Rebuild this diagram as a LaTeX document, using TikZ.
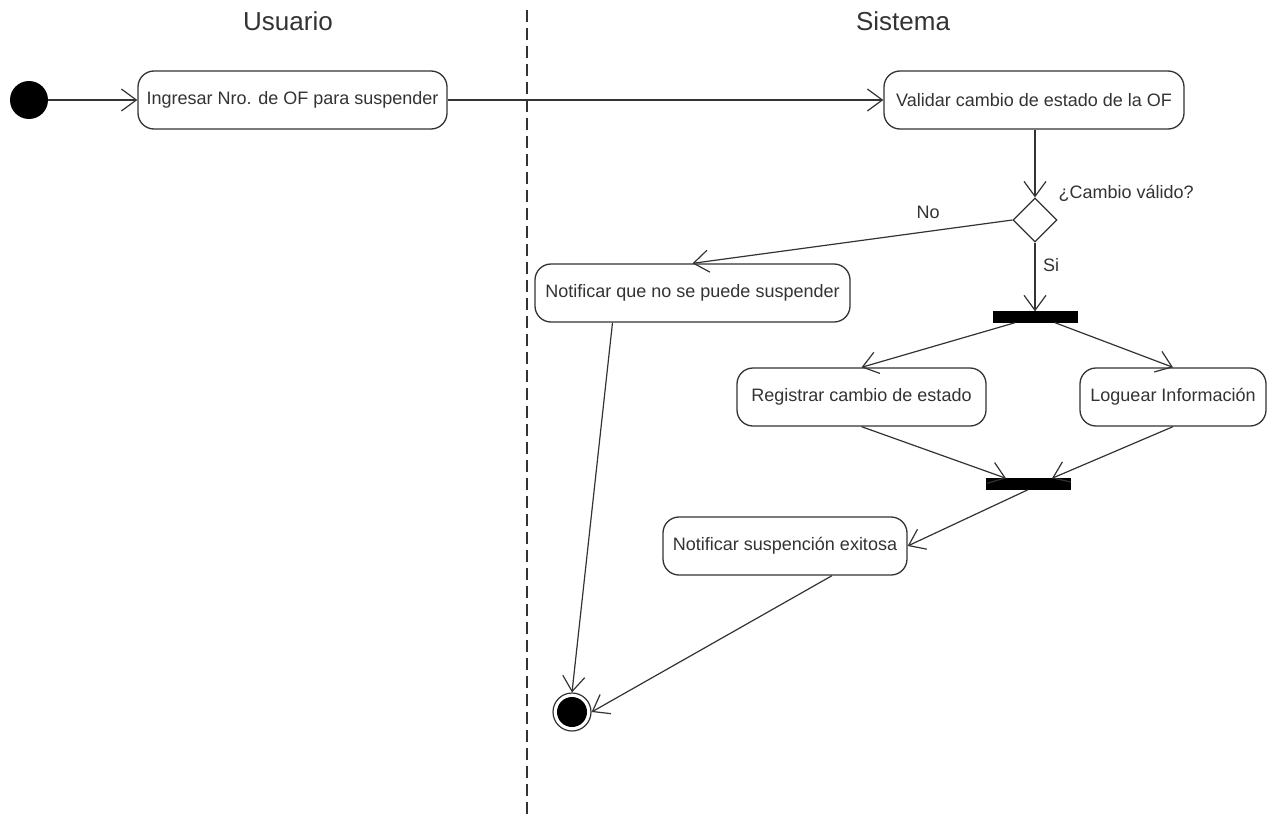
\documentclass[tikz,border=0pt]{standalone}
\usepackage{fontspec}
\setmainfont{Liberation Sans}
\usetikzlibrary{arrows.meta,shapes.geometric}
\definecolor{ln}{HTML}{333333}
\begin{document}
\begin{tikzpicture}[x=1pt,y=-1pt,
  act/.style={draw=ln,line width=1.3pt,rounded corners=16pt,minimum height=58pt,inner sep=0pt,font=\fontsize{18}{21}\selectfont,text=ln},
  flow/.style={draw=ln,line width=1.2pt,-{Straight Barb[length=15pt,width=22pt,line width=1.2pt]}},
  bar/.style={fill=black,draw=black,minimum width=84pt,minimum height=11pt,inner sep=0pt},
  lbl/.style={font=\fontsize{18}{21}\selectfont,text=ln},
  lane/.style={font=\fontsize{26}{30}\selectfont,text=ln}]
\useasboundingbox (0,0) rectangle (1276,816);
\fill[white] (0,0) rectangle (1276,816);
% lanes
\node[lane] (usuario) at (288,21) {Usuario};
\node[lane] (sistema) at (903,21) {Sistema};
\coordinate (ltop) at (527,10);
\coordinate (lbot) at (527,816);
\draw[ln,line width=1.2pt,dash pattern=on 12pt off 6pt] (ltop) -- (lbot);
% nodes
\node[circle,fill=black,minimum size=38pt,inner sep=0pt] (start) at (29,100) {};
\node[act,minimum width=309pt] (A) at (292.5,100) {Ingresar Nro. de OF para suspender};
\node[act,minimum width=300pt] (B) at (1034,100) {Validar cambio de estado de la OF};
\node[diamond,draw=ln,line width=1.2pt,minimum width=44pt,minimum height=44pt,inner sep=0pt,fill=white] (dec) at (1035,220) {};
\node[lbl,anchor=west] (q) at (1055,193) {¿Cambio válido?};
\node[lbl] (no) at (928,212) {No};
\node[lbl] (si) at (1051,265) {Si};
\node[act,minimum width=315pt] (C) at (692.5,293) {Notificar que no se puede suspender};
\node[bar] (fork) at (1035,317) {};
\node[act,minimum width=249pt] (D) at (861.5,397) {Registrar cambio de estado};
\node[act,minimum width=186pt] (E) at (1173,397) {Loguear Información};
\node[bar] (join) at (1028,484) {};
\node[act,minimum width=244pt] (F) at (785,546) {Notificar suspención exitosa};
\node[circle,draw=ln,line width=1.2pt,minimum size=38pt,inner sep=0pt] (end) at (572,712) {};
\node[circle,fill=black,minimum size=30pt,inner sep=0pt] (endin) at (end.center) {};
% connectors
\draw[flow] (start.east) -- (A.west);
\draw[flow] (A.east) -- (B.west);
\draw[flow] (B.south -| dec.north) -- (dec.north);
\draw[flow] (dec.west) -- (C.north);
\draw[flow] (dec.south) -- (fork.north -| dec.south);
\draw[flow] ([xshift=-20pt]fork.south) -- (D.north);
\draw[flow] ([xshift=20pt]fork.south) -- (E.north);
\draw[flow] (D.south) -- ([xshift=-22pt]join.north);
\draw[flow] (E.south) -- ([xshift=24pt]join.north);
\draw[flow] (join.south) -- (F.east);
\draw[flow] ([xshift=-80pt]C.south) -- (end.north);
\draw[flow] ([xshift=47pt]F.south) -- (end.east);
\end{tikzpicture}
\end{document}
